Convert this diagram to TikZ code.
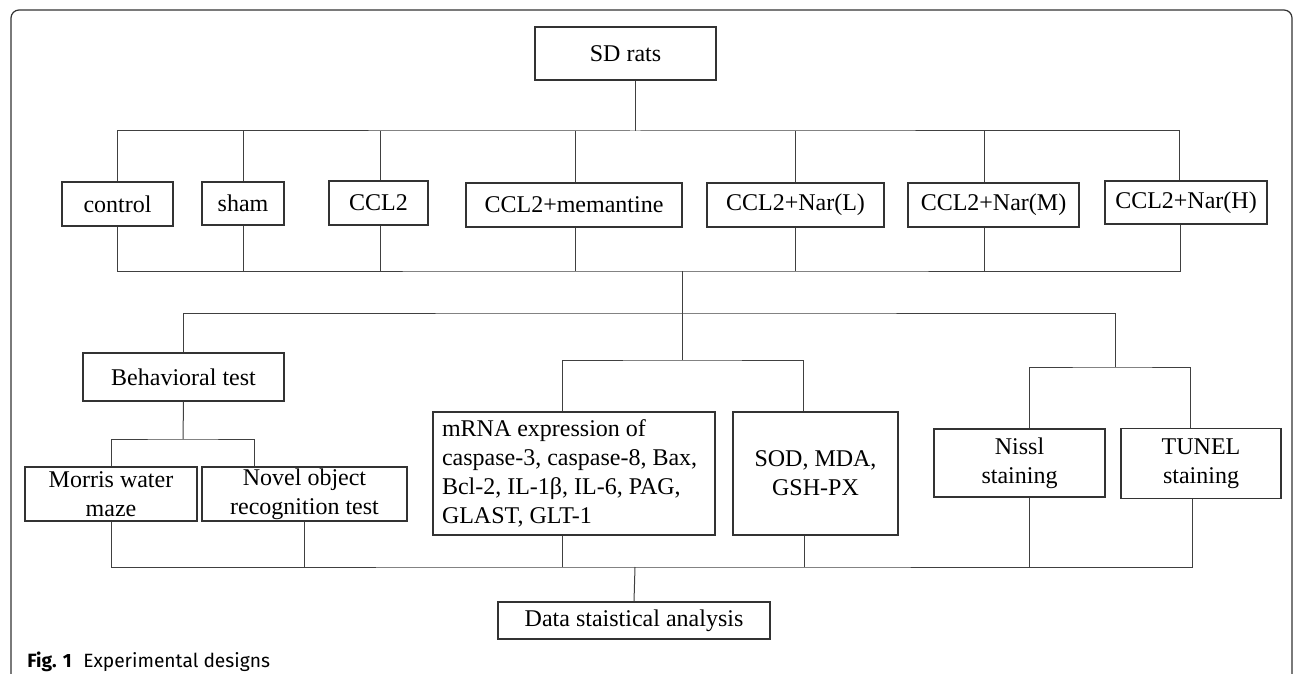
\documentclass[tikz,border=0pt]{standalone}
\usepackage{fontspec}
\setmainfont{Liberation Serif}
\newfontfamily\capfont{Fira Sans}
\begin{document}
\begin{tikzpicture}[x=0.5pt,y=-0.5pt,
  box/.style={draw=black!80, line width=0.7pt, inner sep=0pt, align=center,
              font=\fontsize{12}{14.5}\selectfont},
  conn/.style={draw=black!75, line width=0.5pt}]
\useasboundingbox (0,0) rectangle (1295,674);
% frame
\draw[black!80, line width=0.6pt, rounded corners=4pt] (11,674) -- (11,10) -- (1292,10) -- (1292,674);

% nodes
\node[box, minimum width=90.5pt, minimum height=26.5pt] (sd) at (625.5,53.5) {SD rats};
\node[box, minimum width=55.5pt, minimum height=22pt] (ctrl) at (117.5,204) {control};
\node[box, minimum width=41pt, minimum height=21.5pt] (sham) at (243,203.5) {sham};
\node[box, minimum width=49.5pt, minimum height=22pt] (ccl) at (378.5,203) {CCL2};
\node[box, minimum width=108pt, minimum height=22pt] (mem) at (574,205) {CCL2+memantine};
\node[box, minimum width=88.5pt, minimum height=22pt] (nl) at (795.5,205) {CCL2+Nar(L)};
\node[box, minimum width=85.5pt, minimum height=22pt] (nm) at (993.5,205) {CCL2+Nar(M)};
\node[box, minimum width=81pt, minimum height=21.5pt] (nh) at (1186,202.5) {CCL2+Nar(H)};

\node[box, minimum width=100.5pt, minimum height=24pt] (beh) at (183.5,377) {Behavioral test};
\node[box, minimum width=86pt, minimum height=27pt] (morris) at (111,494) {Morris water\\maze};
\node[box, minimum width=102.5pt, minimum height=27pt] (novel) at (304.5,494) {Novel object\\recognition test};
\node[box, minimum width=141pt, minimum height=61.5pt, text width=132pt, align=flush left] (mrna) at (574,473.5)
  {mRNA expression of\\caspase-3, caspase-8, Bax,\\Bcl-2, IL-1β, IL-6, PAG,\\GLAST, GLT-1};
\node[box, minimum width=82.5pt, minimum height=61.5pt] (sod) at (815.5,473.5) {SOD, MDA,\\GSH-PX};
\node[box, minimum width=85.5pt, minimum height=34pt] (nissl) at (1019.5,463) {Nissl\\staining};
\node[box, minimum width=80pt, minimum height=35pt] (tunel) at (1201,463.5) {TUNEL\\staining};
\node[box, minimum width=136pt, minimum height=18.5pt] (data) at (634,620.5) {Data staistical analysis};

% caption
\node[anchor=base west, inner sep=0pt, font=\capfont\fontsize{9.6}{11}\selectfont] (cap) at (27,667)
  {\textbf{Fig. 1}\hspace{0.6em}Experimental designs};

% coordinates of bus junctions
\coordinate (tb) at (635,131);
\coordinate (lb) at (682,271);
\coordinate (mb) at (682,313);
\coordinate (mr) at (682,360);
\coordinate (nt) at (1115,367);
\coordinate (bm) at (183,439);
\coordinate (bb) at (635,567);

% SD rats -> groups
\draw[conn] ([xshift=4.75pt]sd.south) -- (tb);
\draw[conn] (ctrl.north) |- (tb) -| ([xshift=-3.5pt]nh.north);
\draw[conn] (sham.north) -- (sham.north |- tb);
\draw[conn] ([xshift=0.75pt]ccl.north) -- ([xshift=0.75pt]ccl.north |- tb);
\draw[conn] ([xshift=0.5pt]mem.north) -- ([xshift=0.5pt]mem.north |- tb);
\draw[conn] (nl.north) -- (nl.north |- tb);
\draw[conn] ([xshift=-4.75pt]nm.north) -- ([xshift=-4.75pt]nm.north |- tb);

% groups -> lower bus
\draw[conn] (ctrl.south) |- (lb) -| ([xshift=-3pt]nh.south);
\draw[conn] (sham.south) -- (sham.south |- lb);
\draw[conn] ([xshift=0.75pt]ccl.south) -- ([xshift=0.75pt]ccl.south |- lb);
\draw[conn] ([xshift=0.5pt]mem.south) -- ([xshift=0.5pt]mem.south |- lb);
\draw[conn] (nl.south) -- (nl.south |- lb);
\draw[conn] ([xshift=-4.75pt]nm.south) -- ([xshift=-4.75pt]nm.south |- lb);

% central trunk and third level
\draw[conn] (lb) -- (mr);
\draw[conn] (beh.north) |- (mb) -| (nt);
\draw[conn] ([xshift=-6pt]mrna.north) |- (mr) -| ([xshift=-6.25pt]sod.north);
\draw[conn] ([xshift=4.75pt]nissl.north) |- (nt) -| ([xshift=-5.5pt]tunel.north);
\draw[conn] (beh.south) -- (bm);
\draw[conn] (morris.north) |- (bm) -| ([xshift=-25.25pt]novel.north);

% bottom bus -> data analysis
\draw[conn] (morris.south) |- (bb) -| ([xshift=-4.5pt]tunel.south);
\draw[conn] (novel.south) -- (novel.south |- bb);
\draw[conn] ([xshift=-6pt]mrna.south) -- ([xshift=-6pt]mrna.south |- bb);
\draw[conn] ([xshift=-5.75pt]sod.south) -- ([xshift=-5.75pt]sod.south |- bb);
\draw[conn] ([xshift=4.75pt]nissl.south) -- ([xshift=4.75pt]nissl.south |- bb);
\draw[conn] (bb) -- (data.north);
\end{tikzpicture}
\end{document}
